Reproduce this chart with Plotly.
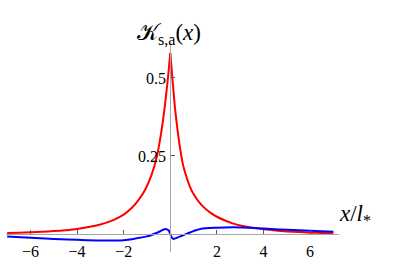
import plotly.graph_objects as go

# Red curve, right branch (x >= 0)
red_right_x = [0, 0.05, 0.1, 0.2, 0.3, 0.43, 0.55, 0.69, 0.85, 0.98, 1.2, 1.41, 1.7, 2.0, 2.35, 2.7, 3.05, 3.4, 4.0, 4.5, 5.0, 5.5, 6.0, 6.5, 7.0]
red_right_y = [0.58, 0.535, 0.49, 0.405, 0.34, 0.27, 0.22, 0.184, 0.15, 0.13, 0.105, 0.0875, 0.069, 0.055, 0.043, 0.033, 0.026, 0.021, 0.015, 0.011, 0.008, 0.006, 0.004, 0.003, 0.002]
# Red curve, left branch (x <= 0)
red_left_x = [0, -0.05, -0.1, -0.25, -0.4, -0.57, -0.8, -1.09, -1.35, -1.67, -2.0, -2.4, -2.74, -3.0, -3.5, -4.0, -4.5, -5.0, -5.5, -6.0, -6.5, -7.0]
red_left_y = [0.58, 0.54, 0.5, 0.40, 0.32, 0.25, 0.19, 0.14, 0.110, 0.082, 0.062, 0.046, 0.036, 0.030, 0.022, 0.016, 0.012, 0.009, 0.007, 0.0053, 0.004, 0.003]
# Blue curve
blue_x = [-7.0, -6.0, -5.0, -4.0, -3.0, -2.0, -1.5, -1.0, -0.86, -0.5, -0.21, -0.08, 0.0, 0.06, 0.14, 0.3, 0.5, 0.7, 1.0, 1.29, 2.0, 2.7, 3.4, 4.0, 5.0, 6.0, 7.0]
blue_y = [-0.008, -0.012, -0.016, -0.019, -0.021, -0.02, -0.015, -0.008, -0.005, 0.006, 0.016, 0.012, 0.0, -0.011, -0.016, -0.012, -0.006, 0.0, 0.009, 0.016, 0.02, 0.021, 0.02, 0.017, 0.013, 0.01, 0.007]

x_ticks = [-6, -4, -2, 2, 4, 6]
x_tick_labels = ["\u22126", "\u22124", "\u22122", "2", "4", "6"]
y_ticks = [0.25, 0.5]
y_tick_labels = ["0.25", "0.5"]

x_range = [-7.05, 7.24]
y_range = [-0.058, 0.612]

axis_gray = "#a6a6a6"
serif = "Liberation Serif"

fig = go.Figure()
fig.add_trace(go.Scatter(x=red_left_x, y=red_left_y, mode="lines",
                         line=dict(color="#ff0000", width=2, shape="spline", smoothing=0.6), showlegend=False))
fig.add_trace(go.Scatter(x=red_right_x, y=red_right_y, mode="lines",
                         line=dict(color="#ff0000", width=2, shape="spline", smoothing=0.6), showlegend=False))
fig.add_trace(go.Scatter(x=blue_x, y=blue_y, mode="lines",
                         line=dict(color="#0000ff", width=2, shape="spline"), showlegend=False))

xpos = (0 - y_range[0]) / (y_range[1] - y_range[0])
ypos = (0 - x_range[0]) / (x_range[1] - x_range[0])

fig.update_layout(
    width=399, height=266,
    margin=dict(l=6, r=60, t=43, b=14, autoexpand=False),
    plot_bgcolor="white", paper_bgcolor="white",
    hovermode=False,
    xaxis=dict(range=x_range, anchor="free", position=xpos, showgrid=False, zeroline=False,
               automargin=False,
               showline=True, linecolor=axis_gray, linewidth=1.3,
               tickvals=x_ticks, ticktext=x_tick_labels, ticks="inside", ticklen=4,
               tickcolor="#555555", tickwidth=1, ticklabelstandoff=3,
               tickfont=dict(family=serif, size=16, color="black")),
    yaxis=dict(range=y_range, anchor="free", position=ypos, showgrid=False, zeroline=False,
               automargin=False,
               showline=True, linecolor=axis_gray, linewidth=1.3,
               tickvals=y_ticks, ticktext=y_tick_labels, ticks="inside", ticklen=4,
               tickcolor="#555555", tickwidth=1, ticklabelstandoff=1,
               tickfont=dict(family=serif, size=16, color="black")),
    annotations=[
        dict(text="\U0001D4A6<sub>s,a</sub>(<i>x</i>)", x=0.4895, y=1.12, xref="paper", yref="paper",
             showarrow=False, font=dict(family=serif, size=23, color="black")),
        dict(text="<i>x</i>/<i>l</i><sub>*</sub>", x=1.102, y=0.10, xref="paper", yref="paper",
             showarrow=False, font=dict(family=serif, size=23, color="black")),
    ],
)

fig.write_html("out.html", config={"displayModeBar": False},
               post_script="document.body.style.margin='0px';")
